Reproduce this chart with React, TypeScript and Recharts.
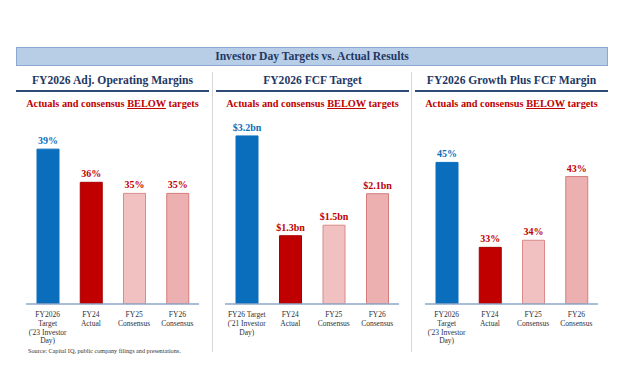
import React from 'react';
import { BarChart, Bar, XAxis, YAxis, Cell, LabelList } from 'recharts';

const categories = ['target', 'fy24', 'fy25', 'fy26'];

const marginTicks = [
    ['FY2026', 'Target', "('23 Investor", 'Day)'],
    ['FY24', 'Actual'],
    ['FY25', 'Consensus'],
    ['FY26', 'Consensus'],
];
const fcfTicks = [
    ['FY26 Target', "('21 Investor", 'Day)'],
    ['FY24', 'Actual'],
    ['FY25', 'Consensus'],
    ['FY26', 'Consensus'],
];

const opMarginValues = [39, 36, 35, 35];
const fcfValues = [3.2, 1.3, 1.5, 2.1];
const growthFcfValues = [45, 33, 34, 43];

const FILLS = ['#0a6ebd', '#c00000', '#f1c1c1', '#ecb0b0'];
const STROKES = ['#0a6ebd', '#a80000', '#d98a8a', '#d47c7c'];
const LABEL_COLORS = ['#0a6ebd', '#c00000', '#c00000', '#c00000'];

const NAVY = '#1f3864';
const RED = '#c00000';
const SERIF = 'Liberation Serif, Times New Roman, serif';

const pct = (v: number) => `${v}%`;
const bn = (v: number) => `$${v.toFixed(1)}bn`;

const makeTick = (lines: string[][]) => (props: any) => {
    const { x, y, index } = props;
    const rows = lines[index] || [];
    return (
        <text x={x} y={y + 5} textAnchor="middle" fontSize={7.5} fill="#2b2f3a" style={{ fontFamily: SERIF }}>
            {rows.map((r, i) => (
                <tspan key={i} x={x} dy={i === 0 ? 0 : 8.8}>{r}</tspan>
            ))}
        </text>
    );
};

const makeLabel = (fmt: (v: number) => string) => (props: any) => {
    const { x, y, width, value, index } = props;
    return (
        <text x={x + width / 2} y={y - 5} textAnchor="middle" fontSize={10} fontWeight="bold"
            fill={LABEL_COLORS[index]} style={{ fontFamily: SERIF }}>
            {fmt(value)}
        </text>
    );
};

interface PanelProps {
    left: number;
    width: number;
    marginLeft: number;
    marginRight: number;
    values: number[];
    domain: [number, number];
    ticks: string[][];
    fmt: (v: number) => string;
}

const Panel: React.FC<PanelProps> = ({ left, width, marginLeft, marginRight, values, domain, ticks, fmt }) => {
    const data = categories.map((c, i) => ({ name: c, value: values[i] }));
    return (
        <div style={{ position: 'absolute', left, top: 110 }}>
            <BarChart width={width} height={240} data={data}
                margin={{ top: 17, right: marginRight, left: marginLeft, bottom: 0 }}>
                <XAxis dataKey="name" height={46} interval={0} tickLine={false}
                    axisLine={{ stroke: '#8ea6c8', strokeWidth: 1.5 }} tick={makeTick(ticks)} />
                <YAxis hide domain={domain} allowDataOverflow />
                <Bar dataKey="value" barSize={22} isAnimationActive={false}>
                    {data.map((_, i) => (
                        <Cell key={i} fill={FILLS[i]} stroke={STROKES[i]} strokeWidth={1} />
                    ))}
                    <LabelList dataKey="value" content={makeLabel(fmt)} />
                </Bar>
            </BarChart>
        </div>
    );
};

const Header: React.FC<{ left: number; width: number; title: string }> = ({ left, width, title }) => (
    <div style={{ position: 'absolute', left, top: 72, width }}>
        <div style={{ textAlign: 'center', fontSize: 11.6, fontWeight: 'bold', color: NAVY, height: 18, lineHeight: '18px' }}>
            {title}
        </div>
        <div style={{ height: 2, background: '#2e4a78', marginTop: 0 }} />
        <div style={{ textAlign: 'center', fontSize: 10.3, fontWeight: 'bold', color: RED, marginTop: 6 }}>
            Actuals and consensus <span style={{ textDecoration: 'underline' }}>BELOW</span> targets
        </div>
    </div>
);

export default function App() {
    return (
        <div style={{ position: 'absolute', left: 0, top: 0, width: 624, height: 384, background: '#fff', fontFamily: SERIF, overflow: 'hidden' }}>
            <div style={{
                position: 'absolute', left: 16, top: 47, width: 590, height: 17,
                background: '#b8cde6', border: '1px solid #8aa8d2', textAlign: 'center',
                fontSize: 11.6, fontWeight: 'bold', color: NAVY, lineHeight: '17px',
            }}>
                Investor Day Targets vs. Actual Results
            </div>
            <div style={{ position: 'absolute', left: 212, top: 72, width: 1, height: 280, background: '#d6d6d6' }} />
            <div style={{ position: 'absolute', left: 411, top: 72, width: 1, height: 280, background: '#d6d6d6' }} />

            <Header left={16} width={193} title="FY2026 Adj. Operating Margins" />
            <Header left={216} width={193} title="FY2026 FCF Target" />
            <Header left={415} width={193} title="FY2026 Growth Plus FCF Margin" />

            <Panel left={0} width={212} marginLeft={26} marginRight={13} values={opMarginValues}
                domain={[25, 41]} ticks={marginTicks} fmt={pct} />
            <Panel left={212} width={199} marginLeft={13} marginRight={12} values={fcfValues}
                domain={[0, 3.37]} ticks={fcfTicks} fmt={bn} />
            <Panel left={411} width={197} marginLeft={14} marginRight={10} values={growthFcfValues}
                domain={[25, 50]} ticks={marginTicks} fmt={pct} />

            <div style={{ position: 'absolute', left: 28, top: 347, fontSize: 6.2, lineHeight: '7px', color: '#333', whiteSpace: 'nowrap' }}>
                Source: Capital IQ, public company filings and presentations.
            </div>
        </div>
    );
}
